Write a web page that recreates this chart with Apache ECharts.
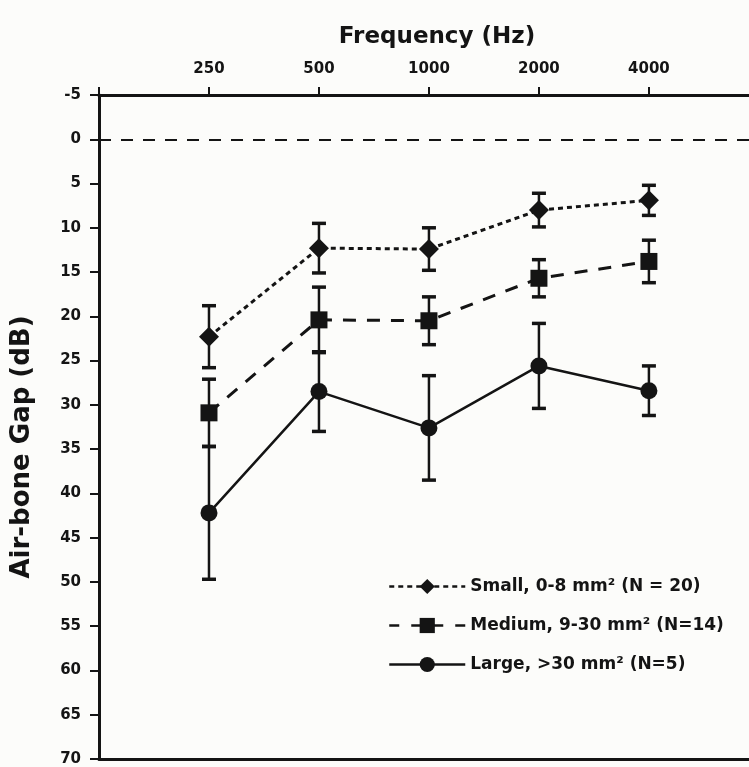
<!DOCTYPE html>
<html>
<head>
<meta charset="utf-8">
<style>
  html, body { margin: 0; padding: 0; background: #fcfcfa; }
  #chart { width: 749px; height: 767px; }
</style>
<script src="https://cdn.jsdelivr.net/npm/echarts@6/dist/echarts.min.js"></script>
</head>
<body>
<div id="chart"></div>
<script>
// Frequency categories (Hz)
const frequencies = ['250', '500', '1000', '2000', '4000'];

// Air-bone gap means (dB) and error half-widths
const smallMean  = [22.3, 12.3, 12.4, 8.0, 6.9];
const smallErr   = [3.5, 2.8, 2.4, 1.9, 1.7];
const mediumMean = [30.9, 20.4, 20.5, 15.7, 13.8];
const mediumErr  = [3.8, 3.7, 2.7, 2.1, 2.4];
const largeMean  = [42.2, 28.5, 32.6, 25.6, 28.4];
const largeErr   = [7.5, 4.5, 5.9, 4.8, 2.8];

const seriesNames = [
  'Small, 0-8 mm\u00B2 (N = 20)',
  'Medium, 9-30 mm\u00B2 (N=14)',
  'Large, >30 mm\u00B2 (N=5)'
];

const yTicks = { min: -5, max: 70, interval: 5 };

const FONT = '"DejaVu Sans", "Liberation Sans", Arial, sans-serif';
const INK = '#141414';

function points(means) {
  return means.map((v, i) => [i, v]);
}
function errData(means, errs) {
  return means.map((v, i) => [i, v - errs[i], v + errs[i]]);
}
function errorSeries(means, errs) {
  return {
    type: 'custom',
    z: 1,
    silent: true,
    data: errData(means, errs),
    encode: { x: 0, y: [1, 2] },
    renderItem: function (params, api) {
      const x = api.value(0);
      const lo = api.coord([x, api.value(1)]);
      const hi = api.coord([x, api.value(2)]);
      const cap = 7;
      return {
        type: 'group',
        children: [
          { type: 'line', shape: { x1: lo[0], y1: lo[1], x2: hi[0], y2: hi[1] }, style: { stroke: INK, lineWidth: 2.5 } },
          { type: 'line', shape: { x1: lo[0] - cap, y1: lo[1], x2: lo[0] + cap, y2: lo[1] }, style: { stroke: INK, lineWidth: 3.5 } },
          { type: 'line', shape: { x1: hi[0] - cap, y1: hi[1], x2: hi[0] + cap, y2: hi[1] }, style: { stroke: INK, lineWidth: 3.5 } }
        ]
      };
    }
  };
}

const chart = echarts.init(document.getElementById('chart'));

const legendLineTypes = [[5, 4], [10, 12], 'solid'];

const option = {
  backgroundColor: '#fcfcfa',
  animation: false,
  title: {
    text: 'Frequency (Hz)',
    left: 432,
    top: 21,
    textAlign: 'center',
    textStyle: { fontFamily: FONT, fontWeight: 'bold', fontSize: 23, color: INK }
  },
  graphic: [{
    type: 'text',
    x: 22,
    y: 447,
    rotation: Math.PI / 2,
    style: {
      text: 'Air-bone Gap (dB)',
      fontFamily: FONT,
      fontWeight: 'bold',
      fontSize: 26,
      fill: INK,
      align: 'center',
      verticalAlign: 'middle'
    }
  }],
  legend: {
    orient: 'vertical',
    left: 383,
    top: 573,
    itemWidth: 76,
    itemHeight: 19,
    itemGap: 22,
    textStyle: { fontFamily: FONT, fontWeight: 'bold', fontSize: 17, color: INK },
    data: seriesNames.map((n, i) => ({
      name: n,
      lineStyle: { width: 2.5, type: legendLineTypes[i], color: INK }
    }))
  },
  grid: { left: 99, right: 0, top: 95, bottom: 8, containLabel: false },
  xAxis: [{
    type: 'value',
    position: 'top',
    min: -1,
    max: 4.91,
    interval: 1,
    splitLine: { show: false },
    axisLine: { show: true, onZero: false, lineStyle: { color: INK, width: 3 } },
    axisTick: { show: true, inside: false, length: 8, lineStyle: { color: INK, width: 2 } },
    axisLabel: {
      margin: 18,
      fontFamily: FONT,
      fontWeight: 'bold',
      fontSize: 15,
      color: INK,
      showMaxLabel: false,
      formatter: function (v) {
        const i = Math.round(v);
        return (i >= 0 && i < frequencies.length && Math.abs(v - i) < 1e-6) ? frequencies[i] : '';
      }
    }
  }, {
    type: 'value',
    position: 'bottom',
    min: -1,
    max: 4.91,
    interval: 1,
    splitLine: { show: false },
    axisLine: { show: true, onZero: false, lineStyle: { color: INK, width: 3 } },
    axisTick: { show: false },
    axisLabel: { show: false }
  }],
  yAxis: {
    type: 'value',
    inverse: true,
    min: yTicks.min,
    max: yTicks.max,
    interval: yTicks.interval,
    splitLine: { show: false },
    axisLine: { show: true, onZero: false, lineStyle: { color: INK, width: 3 } },
    axisTick: { show: true, inside: false, length: 9, lineStyle: { color: INK, width: 2 } },
    axisLabel: {
      margin: 18,
      fontFamily: FONT,
      fontWeight: 'bold',
      fontSize: 15,
      color: INK
    }
  },
  series: [
    errorSeries(smallMean, smallErr),
    errorSeries(mediumMean, mediumErr),
    errorSeries(largeMean, largeErr),
    {
      name: seriesNames[0],
      type: 'line',
      z: 3,
      data: points(smallMean),
      symbol: 'diamond',
      symbolSize: [20, 20],
      itemStyle: { color: INK },
      lineStyle: { color: INK, width: 3, type: [5, 4] },
      markLine: {
        silent: true,
        symbol: 'none',
        label: { show: false },
        lineStyle: { color: INK, width: 2, type: [12, 10] },
        data: [{ yAxis: 0 }]
      }
    },
    {
      name: seriesNames[1],
      type: 'line',
      z: 3,
      data: points(mediumMean),
      symbol: 'rect',
      symbolSize: 17,
      itemStyle: { color: INK },
      lineStyle: { color: INK, width: 3, type: [13, 11] }
    },
    {
      name: seriesNames[2],
      type: 'line',
      z: 3,
      data: points(largeMean),
      symbol: 'circle',
      symbolSize: 17,
      itemStyle: { color: INK },
      lineStyle: { color: INK, width: 2.5, type: 'solid' }
    }
  ]
};

chart.setOption(option);
</script>
</body>
</html>
